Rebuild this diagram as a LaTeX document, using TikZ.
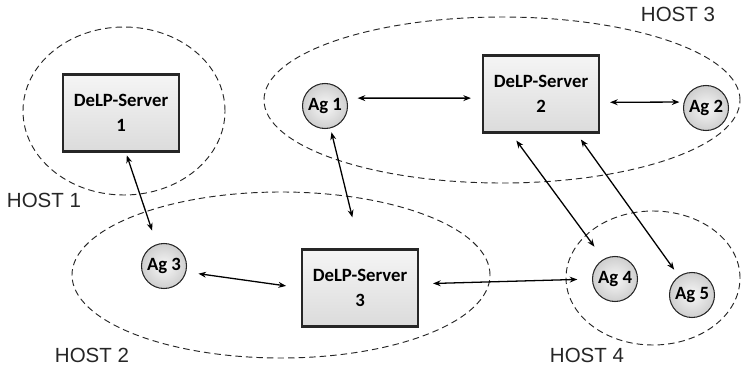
\documentclass[tikz,border=0pt]{standalone}
\usepackage{fontspec}
\setmainfont{Carlito}
\newfontfamily\hostfont{Liberation Sans}
\usetikzlibrary{arrows.meta}

\begin{document}
\begin{tikzpicture}[x = 0.03cm, y = -0.03cm, > = {Stealth[length=6.5pt,width=5pt]},
	server/.style = {draw=black!85, line width=1.8pt, top color=gray!8, bottom color=gray!28, minimum width=3.48cm, minimum height=2.31cm, align=center, font=\fontsize{16}{21}\selectfont\bfseries},
	agent/.style = {circle, draw=black!85, line width=0.9pt, inner color=gray!6, outer color=gray!38, minimum size=1.35cm, inner sep=0pt, font=\fontsize{16}{19}\selectfont\bfseries},
	host/.style = {draw=black!85, line width=0.8pt, dash pattern=on 5.5pt off 3.5pt},
	hostlabel/.style = {font=\fontsize{17.5}{20}\selectfont\hostfont, text=black!85},
	link/.style = {<->, line width=1.1pt}]
		\useasboundingbox (0,0) rectangle (741,369);
		% hosts
		\draw[host] (124,111) ellipse [x radius=3.03cm, y radius=2.52cm];
		\draw[host] (281,275) ellipse [x radius=6.27cm, y radius=2.49cm];
		\draw[host] (502,100) ellipse [x radius=7.14cm, y radius=2.49cm];
		\draw[host] (653,278) ellipse [x radius=2.61cm, y radius=2.01cm];
		\node[hostlabel] (h1) at (44,200) {HOST 1};
		\node[hostlabel] (h2) at (92,355) {HOST 2};
		\node[hostlabel] (h3) at (678,14) {HOST 3};
		\node[hostlabel] (h4) at (587,355) {HOST 4};
		% servers and agents
		\node[server] (s1) at (121,113) {DeLP-Server\\1};
		\node[server] (s2) at (541,94) {DeLP-Server\\2};
		\node[server] (s3) at (360,288) {DeLP-Server\\3};
		\node[agent] (ag1) at (325,106) {Ag 1};
		\node[agent] (ag2) at (706,108) {Ag 2};
		\node[agent] (ag3) at (164,266) {Ag 3};
		\node[agent] (ag4) at (615,279) {Ag 4};
		\node[agent] (ag5) at (692,295) {Ag 5};
		% links
		\draw[link, shorten <=0.09cm, shorten >=0.43cm] (s1.-83) -- (ag3);
		\draw[link, shorten <=0.12cm, shorten >=0.96cm] (ag1) -- (s3.north);
		\draw[link, shorten <=0.37cm, shorten >=0.45cm] (ag3.-15) -- (s3.west);
		\draw[link, shorten <=0.42cm, shorten >=0.44cm] (s3.4) -- (ag4.180);
		\draw[link, shorten <=0.33cm, shorten >=0.33cm] (ag1.20) -- (s2.184);
		\draw[link, shorten <=0.3cm, shorten >=0.13cm] (s2.-8) -- (ag2.165);
		\draw[link, shorten <=0.26cm, shorten >=0.46cm] (s2.-127) -- (ag4.120);
		\draw[link, shorten <=0.22cm, shorten >=0.24cm] (s2.-48) -- (ag5.125);
	\end{tikzpicture}
\end{document}
